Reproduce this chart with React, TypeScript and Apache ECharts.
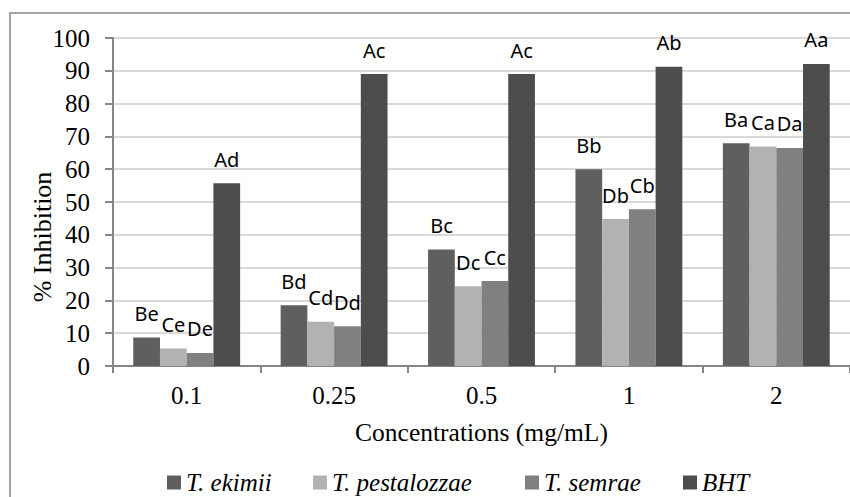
import React, { useEffect, useRef } from "react";
import * as echarts from "echarts";

const categories = ["0.1", "0.25", "0.5", "1", "2"];
const seriesNames = ["T. ekimii", "T. pestalozzae", "T. semrae", "BHT"];
const ekimii = [8.7, 18.5, 35.5, 60.0, 67.9];
const pestalozzae = [5.3, 13.5, 24.3, 44.8, 66.9];
const semrae = [4.0, 12.1, 25.9, 47.8, 66.5];
const bht = [55.7, 89.0, 89.0, 91.2, 92.1];
const ekimiiLabels = ["Be", "Bd", "Bc", "Bb", "Ba"];
const pestalozzaeLabels = ["Ce", "Cd", "Dc", "Db", "Ca"];
const semraeLabels = ["De", "Dd", "Cc", "Cb", "Da"];
const bhtLabels = ["Ad", "Ac", "Ac", "Ab", "Aa"];
const colors = ["#5f5f5f", "#b2b2b2", "#808080", "#4d4d4d"];
const legendLefts = [167, 313, 525, 683];

export default function App() {
  const ref = useRef<HTMLDivElement>(null);
  useEffect(() => {
    document.body.style.margin = "0";
    const chart = echarts.init(ref.current!, null, { renderer: "svg" });
    const values = [ekimii, pestalozzae, semrae, bht];
    const labels = [ekimiiLabels, pestalozzaeLabels, semraeLabels, bhtLabels];
    const serif = "Liberation Serif";
    chart.setOption({
      animation: false,
      backgroundColor: "#ffffff",
      textStyle: { fontFamily: serif },
      grid: { left: 113, right: 0, top: 38, bottom: 131, containLabel: false },
      xAxis: {
        type: "category",
        data: categories,
        name: "Concentrations (mg/mL)",
        nameLocation: "middle",
        nameGap: 53,
        nameTextStyle: { fontFamily: serif, fontSize: 25.5, color: "#000" },
        axisLine: { lineStyle: { color: "#868686", width: 2 } },
        axisTick: { show: true, length: 7, lineStyle: { color: "#868686", width: 2 } },
        axisLabel: { margin: 17, fontFamily: serif, fontSize: 25, color: "#000" },
      },
      yAxis: {
        type: "value",
        min: 0,
        max: 100,
        interval: 10,
        axisLine: { show: true, lineStyle: { color: "#868686", width: 2 } },
        axisTick: { show: true, length: 8, lineStyle: { color: "#868686", width: 2 } },
        axisLabel: { margin: 23, fontFamily: serif, fontSize: 25, color: "#000" },
        splitLine: { show: true, lineStyle: { color: "#d9d9d9", width: 2 } },
      },
      legend: seriesNames.map((n, i) => ({
        data: [n],
        left: legendLefts[i],
        top: 470,
        padding: 0,
        itemWidth: 14,
        itemHeight: 14,
        icon: "rect",
        textStyle: { fontFamily: serif, fontSize: 25, fontStyle: "italic", color: "#000" },
      })),
      graphic: [
        {
          type: "rect",
          shape: { x: 10, y: 13, width: 860, height: 500 },
          style: { fill: "none", stroke: "#a6a6a6", lineWidth: 2 },
          silent: true,
          z: -1,
        },
        {
          type: "text",
          x: 42,
          y: 237,
          rotation: Math.PI / 2,
          style: {
            text: "% Inhibition",
            fontFamily: serif,
            fontSize: 26,
            fill: "#000",
            textAlign: "center",
            textVerticalAlign: "middle",
          },
        },
      ],
      series: seriesNames.map((n, i) => ({
        name: n,
        type: "bar",
        data: values[i],
        barGap: "0%",
        barCategoryGap: "27.5%",
        itemStyle: { color: colors[i] },
        label: {
          show: true,
          position: "top",
          distance: 14,
          fontFamily: "Noto Sans",
          fontSize: 20,
          color: "#000",
          formatter: (p: any) => labels[i][p.dataIndex],
        },
      })),
    });
    return () => chart.dispose();
  }, []);
  return <div ref={ref} style={{ width: 850, height: 497 }} />;
}
